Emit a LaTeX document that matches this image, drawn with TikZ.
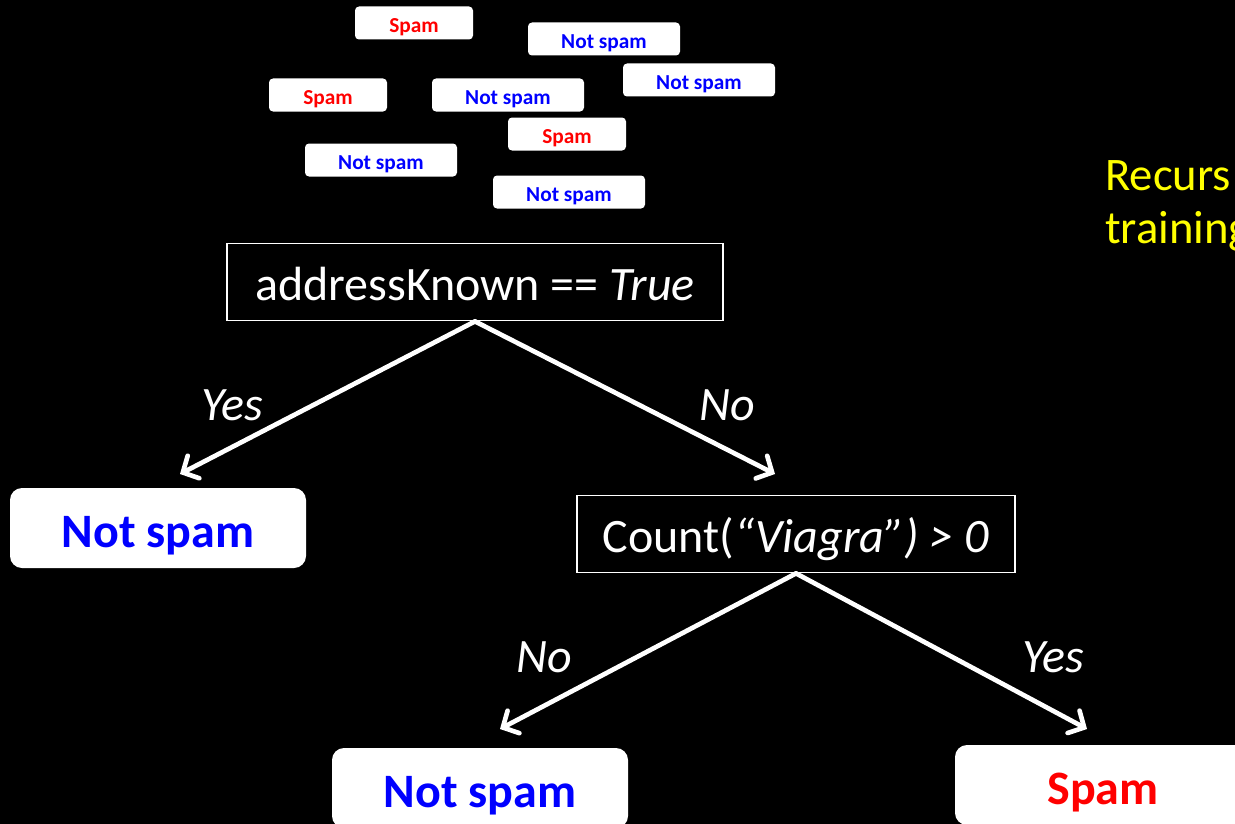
\documentclass[tikz,border=0pt]{standalone}
\usepackage{fontspec}
\setmainfont{Carlito}
\usetikzlibrary{arrows.meta}
\definecolor{spamred}{rgb}{1,0,0}
\definecolor{hamblue}{rgb}{0,0,1}
\definecolor{noteyellow}{rgb}{1,1,0}

\begin{document}
\begin{tikzpicture}[x=0.75pt,y=-0.75pt,
		mail/.style={fill=white, rounded corners=3pt, inner sep=0pt, minimum height=24.75pt,
			text height=14.5pt, text depth=0pt, font=\fontsize{16}{18}\selectfont\bfseries},
		hammail/.style={mail, minimum width=114pt, text=hamblue},
		spammail/.style={mail, minimum width=88.5pt, text=spamred},
		test/.style={draw=white, line width=1.1pt, fill=black, text=white, inner sep=0pt,
			minimum height=58pt, text height=27.5pt, text depth=0pt, font=\fontsize{36}{40}\selectfont},
		leaf/.style={fill=white, rounded corners=9pt, inner sep=0pt, minimum width=222pt,
			minimum height=60pt, text height=28.5pt, text depth=0pt, font=\fontsize{36}{40}\selectfont\bfseries},
		branch/.style={draw=white, line width=3.5pt, line cap=round, line join=round,
			-{Straight Barb[length=9pt,width=19pt,line cap=round]}},
		answer/.style={text=white, font=\fontsize{36}{40}\selectfont\itshape},
		note/.style={anchor=base west, inner sep=0pt, text=noteyellow, font=\fontsize{35}{40}\selectfont}]
	\useasboundingbox (0,0) rectangle (1235,824);
	\fill[black] (0,0) rectangle (1235,824);
	\clip (0,0) rectangle (1235,824);
	% training emails
	\node[spammail] (m1) at (414,23) {Spam};
	\node[hammail] (m2) at (604,39) {Not spam};
	\node[hammail] (m3) at (699,80) {Not spam};
	\node[spammail] (m4) at (328,95) {Spam};
	\node[hammail] (m5) at (508,95) {Not spam};
	\node[spammail] (m6) at (567,134) {Spam};
	\node[hammail] (m7) at (381,160) {Not spam};
	\node[hammail] (m8) at (569,192) {Not spam};
	% side note
	\node[note] (rec) at (1105,190) {Recurs};
	\node[note] (trn) at (1105,243) {training};
	% tree
	\node[test, minimum width=372pt] (addr) at (475,282) {addressKnown == \textit{True}};
	\node[test, minimum width=328.5pt] (cnt) at (796,534) {Count(\textit{“Viagra”) > 0}};
	\node[leaf, text=hamblue] (ham1) at (158,528) {Not spam};
	\node[leaf, text=hamblue] (ham2) at (480,788) {Not spam};
	\node[leaf, text=spamred] (spam) at (1103,785) {Spam};
	\coordinate (e1) at (180,474);
	\coordinate (e2) at (775,474);
	\coordinate (e3) at (500,729);
	\coordinate (e4) at (1087,729);
	\draw[branch] (addr.south) -- (e1);
	\draw[branch] (addr.south) -- (e2);
	\draw[branch] (cnt.south) -- (e3);
	\draw[branch] (cnt.south) -- (e4);
	\node[answer] (y1) at (232,405) {Yes};
	\node[answer] (n1) at (727,405) {No};
	\node[answer] (n2) at (544,657) {No};
	\node[answer] (y2) at (1053,657) {Yes};
\end{tikzpicture}
\end{document}
